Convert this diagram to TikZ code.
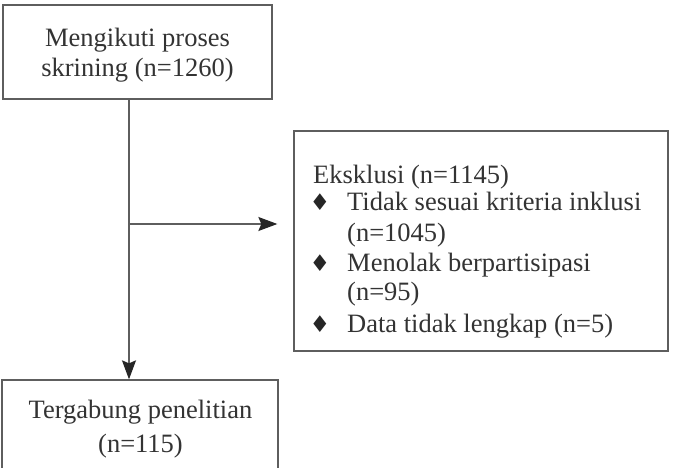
\documentclass[tikz,border=0pt]{standalone}
\usepackage{fontspec}
\setmainfont{Liberation Serif}
\newfontfamily\symfont{DejaVu Sans}
\usetikzlibrary{arrows.meta}
\definecolor{linegray}{HTML}{5E5E5E}
\definecolor{textgray}{HTML}{333333}
\definecolor{headgray}{HTML}{262626}
\begin{document}
\begin{tikzpicture}[x=1pt,y=-1pt,
  box/.style={draw=linegray, line width=1.3pt, inner sep=0pt, rectangle},
  txt/.style={font=\fontsize{26.5}{30}\selectfont, text=textgray, inner sep=0pt, anchor=base},
  ltxt/.style={txt, anchor=base west},
  bul/.style={font=\symfont\fontsize{23}{26}\selectfont, text=headgray, inner sep=0pt, anchor=base},
  conn/.style={draw=linegray, line width=1.3pt, -{Stealth[length=19pt,width=14pt,inset=3pt,fill=headgray,color=headgray]}}
]
\clip (0,0) rectangle (674,468);
\fill[white] (0,0) rectangle (674,468);
% top box
\node[box, minimum width=269pt, minimum height=94pt] (top) at (137.5,52) {};
\node[txt] (t1) at (137.5,47) {Mengikuti proses};
\node[txt] (t2) at (137.5,77) {skrining (n=1260)};
% exclusion box
\node[box, minimum width=374pt, minimum height=220pt] (ex) at (481,241) {};
\node[ltxt] (e0) at (313,183) {Eksklusi (n=1145)};
\node[bul] (b1) at (320,210) {♦};
\node[ltxt] (e1) at (347,210) {Tidak sesuai kriteria inklusi};
\node[ltxt] (e2) at (347,241) {(n=1045)};
\node[bul] (b2) at (320,271) {♦};
\node[ltxt] (e3) at (347,271) {Menolak berpartisipasi};
\node[ltxt] (e4) at (347,300) {(n=95)};
\node[bul] (b3) at (320,332) {♦};
\node[ltxt] (e5) at (347,332) {Data tidak lengkap (n=5)};
% bottom box
\node[box, minimum width=276pt, minimum height=120pt] (bot) at (140,440) {};
\node[txt] (u1) at (140.5,418) {Tergabung penelitian};
\node[txt] (u2) at (140.5,452) {(n=115)};
% connectors
\coordinate (v1) at (129,99);
\draw[conn] (v1) -- (v1 |- bot.north);
\coordinate (h1) at (130,224);
\draw[conn] (h1) -- ([xshift=-16pt]ex.west |- h1);
\end{tikzpicture}
\end{document}
